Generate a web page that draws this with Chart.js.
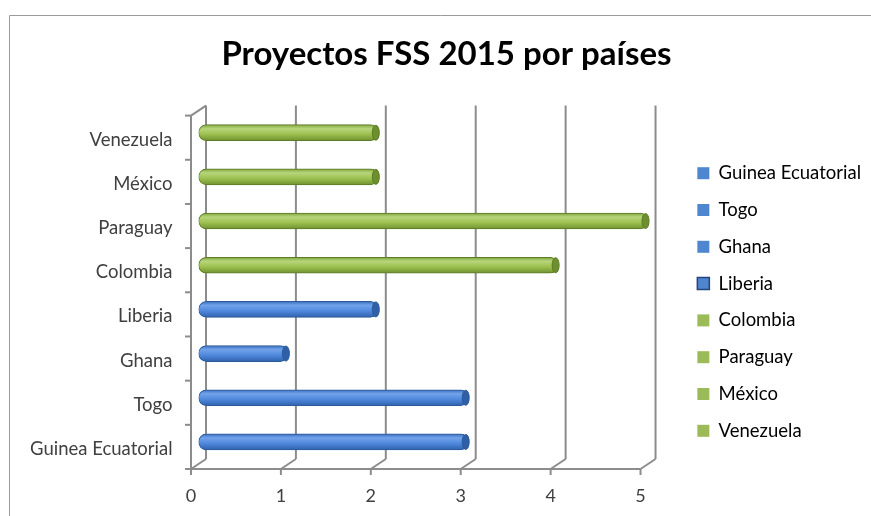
<!DOCTYPE html>
<html>
<head>
<meta charset="utf-8">
<script src="https://cdn.jsdelivr.net/npm/chart.js@4.4.0/dist/chart.umd.min.js"></script>
<style>
    html, body { margin: 0; padding: 0; background: #fff; }
    #wrap { width: 871px; height: 516px; }
</style>
</head>
<body>
<div id="wrap"><canvas id="chart" width="871" height="516"></canvas></div>
<script>
// ---- Data ----
const countries = ['Guinea Ecuatorial', 'Togo', 'Ghana', 'Liberia', 'Colombia', 'Paraguay', 'México', 'Venezuela'];
const projects = [3, 3, 1, 2, 4, 5, 2, 2];
const regions = ['africa', 'africa', 'africa', 'africa', 'america', 'america', 'america', 'america'];
const xTicks = [0, 1, 2, 3, 4, 5];

// ---- Styles ----
const FONT = 'Lato, "Open Sans", sans-serif';
const palette = {
    africa: { top: '#3a6fbf', light: '#72a3ea', mid: '#4f88dc', dark: '#2f62ae', border: '#2c5a98', cap: '#2f5fa6', legend: '#4f86d0' },
    america: { top: '#7fa33a', light: '#b7d67c', mid: '#9dc050', dark: '#6f9230', border: '#5c7b26', cap: '#6d8f2e', legend: '#9bbb59' }
};
const BAR_H = 16;
const DX = 7.5, DY = 5; // half depth of the fake 3D box
const LEGEND_SHIFT = 44;

function barFill(c) {
    const chart = c.chart;
    const p = palette[regions[c.datasetIndex]];
    const ys = chart.scales.y;
    if (!ys || c.dataIndex === undefined) return p.mid;
    const cy = ys.getPixelForValue(c.dataIndex);
    const g = chart.ctx.createLinearGradient(0, cy - BAR_H / 2, 0, cy + BAR_H / 2);
    g.addColorStop(0, p.top);
    g.addColorStop(0.25, p.light);
    g.addColorStop(0.6, p.mid);
    g.addColorStop(1, p.dark);
    return g;
}

const datasets = countries.map((name, i) => ({
    label: name,
    data: countries.map((_, j) => (j === i ? projects[i] : null)),
    backgroundColor: barFill,
    borderColor: palette[regions[i]].border,
    borderWidth: 1,
    borderRadius: 8,
    borderSkipped: false,
    barThickness: BAR_H
}));

// ---- Plugins ----

function line(ctx, x1, y1, x2, y2) {
    ctx.beginPath();
    ctx.moveTo(x1, y1);
    ctx.lineTo(x2, y2);
    ctx.stroke();
}

const framePlugin = {
    id: 'frame',
    afterLayout(chart) {
        // the legend sits a bit lower than Chart.js centres it
        chart.legend.top += LEGEND_SHIFT;
        chart.legend.bottom += LEGEND_SHIFT;
    },
    beforeDraw(chart) {
        const ctx = chart.ctx;
        ctx.save();
        ctx.strokeStyle = '#9a9a9a';
        ctx.lineWidth = 1;
        ctx.beginPath();
        ctx.moveTo(9.5, chart.height);
        ctx.lineTo(9.5, 15.5);
        ctx.lineTo(chart.width, 15.5);
        ctx.stroke();
        ctx.restore();
    }
};

const wallPlugin = {
    id: 'wall',
    beforeDatasetsDraw(chart) {
        const { ctx, chartArea: a, scales: { x, y } } = chart;
        ctx.save();
        ctx.strokeStyle = '#8c8c8c';
        ctx.lineWidth = 2;
        xTicks.forEach(v => {
            const px = x.getPixelForValue(v);
            line(ctx, px + DX, a.top - DY, px + DX, a.bottom - DY);
            line(ctx, px - DX, a.bottom + DY, px + DX, a.bottom - DY);
            line(ctx, px - DX, a.bottom + DY, px - DX, a.bottom + DY + 6);
        });
        const x0 = x.getPixelForValue(xTicks[0]);
        const xN = x.getPixelForValue(xTicks[xTicks.length - 1]);
        line(ctx, x0 - DX, a.bottom + DY, xN - DX, a.bottom + DY);
        line(ctx, x0 - DX, a.top + DY, x0 - DX, a.bottom + DY);
        line(ctx, x0 - DX, a.top + DY, x0 + DX, a.top - DY);
        for (let i = 0; i <= countries.length; i++) {
            const py = y.getPixelForValue(i - 0.5) + DY;
            line(ctx, x0 - DX - 6, py, x0 - DX, py);
        }
        ctx.restore();
    },
    afterDatasetsDraw(chart) {
        // darker end face of each cylinder
        const ctx = chart.ctx;
        ctx.save();
        chart.data.datasets.forEach((ds, i) => {
            const p = palette[regions[i]];
            chart.getDatasetMeta(i).data.forEach((bar, j) => {
                if (ds.data[j] == null) return;
                ctx.beginPath();
                ctx.ellipse(bar.x - 2.5, bar.y, 3.5, BAR_H / 2 - 0.5, 0, 0, Math.PI * 2);
                ctx.fillStyle = p.cap;
                ctx.fill();
                ctx.strokeStyle = p.border;
                ctx.lineWidth = 1;
                ctx.stroke();
            });
        });
        ctx.restore();
    }
};

// ---- Chart ----

new Chart(document.getElementById('chart'), {
    type: 'bar',
    data: { labels: countries, datasets: datasets },
    options: {
        indexAxis: 'y',
        responsive: false,
        animation: false,
        layout: { padding: { left: 22, right: 0, top: 0, bottom: 0 } },
        plugins: {
            title: {
                display: true,
                text: 'Proyectos FSS 2015 por países',
                color: '#000',
                font: { family: FONT, size: 33, weight: 'bold' },
                padding: { top: 35, bottom: 36 }
            },
            legend: {
                position: 'right',
                align: 'center',
                labels: {
                    boxWidth: 12,
                    boxHeight: 12,
                    padding: 18.3,
                    color: '#262626',
                    font: { family: FONT, size: 18.5 },
                    generateLabels(chart) {
                        return chart.data.datasets.map((ds, i) => {
                            const p = palette[regions[i]];
                            return {
                                text: ds.label,
                                fillStyle: p.legend,
                                strokeStyle: i === 3 ? '#24467a' : p.legend,
                                lineWidth: i === 3 ? 1.5 : 0,
                                hidden: false,
                                datasetIndex: i
                            };
                        });
                    }
                }
            },
            tooltip: { enabled: false }
        },
        scales: {
            x: {
                min: 0,
                max: 5.345,
                stacked: true,
                grid: { display: false },
                border: { display: false },
                afterBuildTicks: s => { s.ticks = xTicks.map(v => ({ value: v })); },
                afterFit: s => { s.height = 52; },
                ticks: {
                    stepSize: 1,
                    color: '#404040',
                    font: { family: FONT, size: 18 },
                    labelOffset: -DX,
                    padding: 13
                }
            },
            y: {
                reverse: true,
                stacked: true,
                grid: { display: false, drawTicks: false },
                border: { display: false },
                afterFit: s => { s.width = 176.5; },
                ticks: {
                    color: '#404040',
                    font: { family: FONT, size: 18.5 },
                    labelOffset: 7,
                    padding: 26
                }
            }
        }
    },
    plugins: [framePlugin, wallPlugin]
});
</script>
</body>
</html>
